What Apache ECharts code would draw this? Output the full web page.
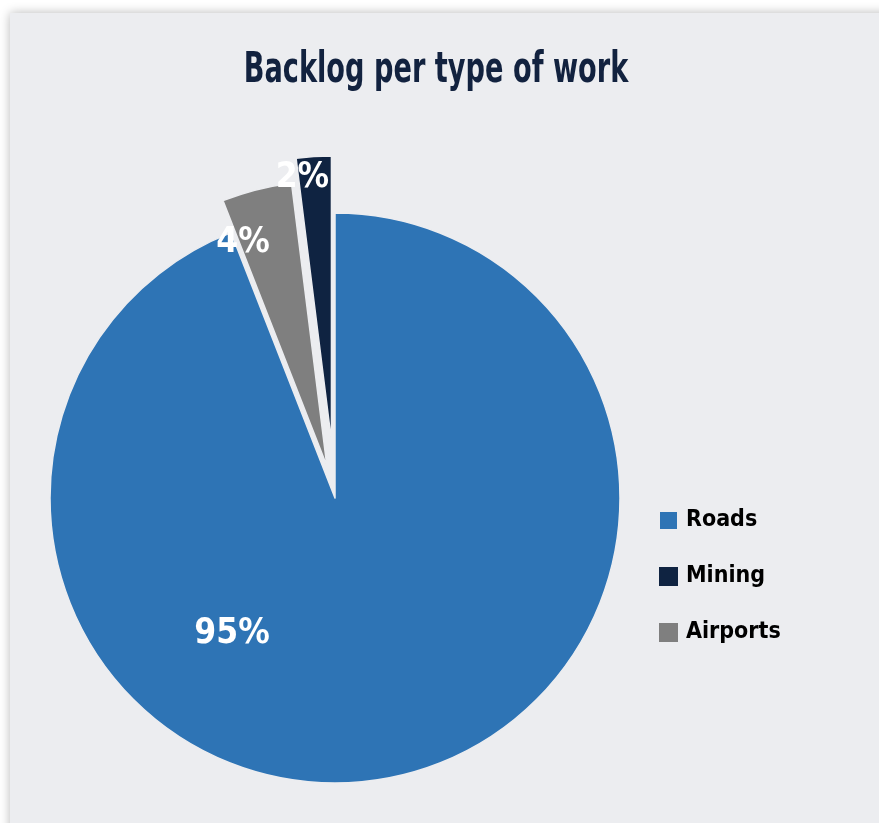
<!DOCTYPE html>
<html>
<head>
<meta charset="utf-8">
<title>Backlog per type of work</title>
<script src="https://cdn.jsdelivr.net/npm/echarts@6/dist/echarts.min.js"></script>
<style>
  html, body { margin: 0; padding: 0; background: #ffffff; }
  #chart { width: 879px; height: 823px; }
</style>
</head>
<body>
<div id="chart"></div>
<script>
// Backlog share per type of work (percent)
const categories = ['Roads', 'Airports', 'Mining'];
const shares = [95, 4, 2];
const legendOrder = ['Roads', 'Mining', 'Airports'];
const chartTitle = 'Backlog per type of work';

// Styling
const sliceColors = ['#2e74b5', '#7f7f7f', '#0f2341'];
const sliceOffsets = [0, 33, 57];          // how far each slice is pulled out
const labelNudge = [[-130, -7], [-48, -82], [-20, -118]];
const panelColor = '#ecedf0';
const FONT = "'Liberation Sans Narrow', 'DejaVu Sans Condensed', 'Roboto Condensed', sans-serif";

const chart = echarts.init(document.getElementById('chart'), null, { renderer: 'canvas' });

// One pie layer per slice, so each slice can be pulled out by its own distance.
const series = categories.map(function (owner, k) {
  return {
    type: 'pie',
    center: [335, 498],
    radius: 285,
    startAngle: 90,
    clockwise: true,
    silent: true,
    animation: false,
    selectedMode: 'single',
    selectedOffset: sliceOffsets[k],
    label: { show: false },
    labelLine: { show: false },
    labelLayout: function (p) {
      const n = labelNudge[p.dataIndex];
      return { dx: n[0], dy: n[1] };
    },
    data: categories.map(function (name, i) {
      const own = i === k;
      return {
        name: name,
        value: shares[i],
        selected: own && sliceOffsets[k] > 0,
        itemStyle: own
          ? { color: sliceColors[i], borderColor: panelColor, borderWidth: 1.5 }
          : { color: 'rgba(0,0,0,0)', borderWidth: 0 },
        label: own
          ? {
              show: true,
              position: 'inside',
              formatter: '{c}%',
              color: '#ffffff',
              fontFamily: FONT,
              fontWeight: 'bold',
              fontSize: 35
            }
          : { show: false }
      };
    })
  };
});

chart.setOption({
  animation: false,
  graphic: [{
    type: 'rect',
    z: -10,
    shape: { x: 10, y: 13, width: 900, height: 850 },
    style: {
      fill: panelColor,
      shadowBlur: 10,
      shadowColor: 'rgba(0,0,0,0.28)',
      shadowOffsetX: 0,
      shadowOffsetY: 0
    }
  }, {
    // condensed headline
    type: 'text',
    x: 436,
    y: 50,
    scaleX: 0.72,
    style: {
      text: chartTitle,
      textAlign: 'center',
      textVerticalAlign: 'top',
      fill: '#12223f',
      fontFamily: FONT,
      fontWeight: 'bold',
      fontSize: 42
    }
  }],
  legend: {
    orient: 'vertical',
    left: 658,
    top: 509,
    padding: 0,
    itemWidth: 19,
    itemHeight: 19,
    itemGap: 33,
    icon: 'rect',
    selectedMode: false,
    textStyle: {
      color: '#000000',
      fontFamily: FONT,
      fontWeight: 'bold',
      fontSize: 23,
      padding: [0, 0, 0, 3]
    },
    data: legendOrder.map(function (name) {
      return { name: name, itemStyle: { color: sliceColors[categories.indexOf(name)] } };
    })
  },
  series: series
});
</script>
</body>
</html>
